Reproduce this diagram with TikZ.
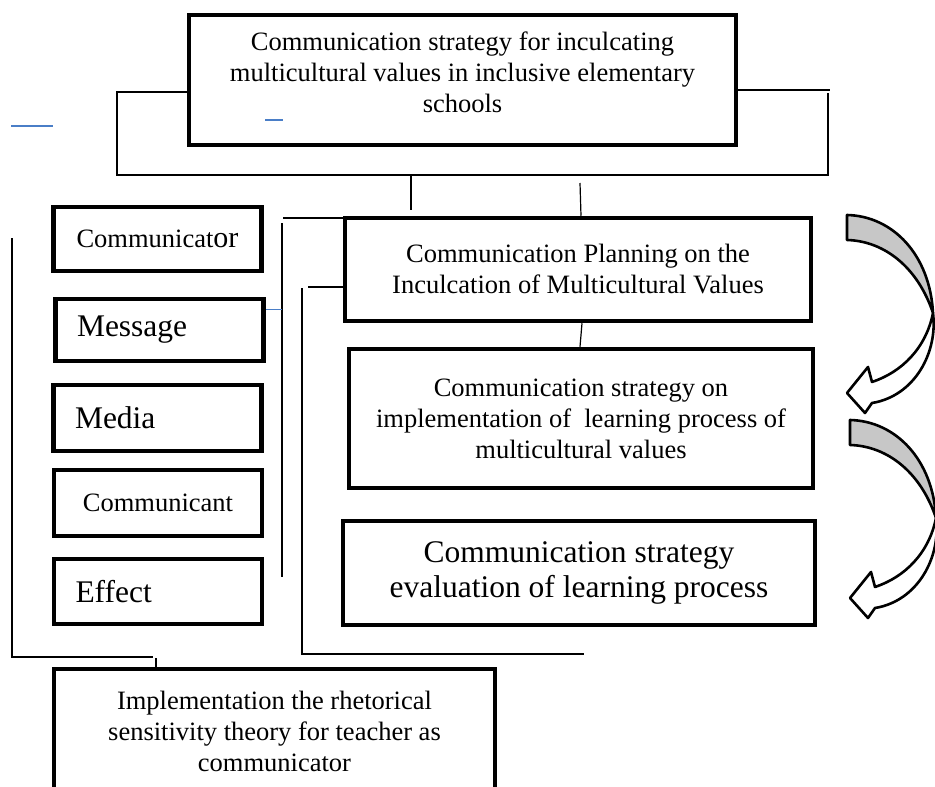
\documentclass[tikz,border=0pt]{standalone}
\usepackage{fontspec}
\setmainfont{Liberation Serif}
\definecolor{linkblue}{RGB}{74,126,199}
\newcommand{\normtxt}{\fontsize{26.5}{31}\selectfont}
\newcommand{\bigtxt}{\fontsize{31.5}{35}\selectfont}

\begin{document}
\begin{tikzpicture}[x=1pt, y=-1pt,
    box/.style={draw, line width=4.5pt, inner sep=0pt, align=center, font=\normtxt},
    item/.style={box, minimum width=208pt, minimum height=65pt},
    leftitem/.style={item, text width=165pt, align=left},
    link/.style={line width=1.2pt},
    curl/.style={line width=2.6pt, line join=round}]
    \useasboundingbox (0,0) rectangle (935,787);
    \clip (0,0) rectangle (935,787);

    % main boxes
    \node[box, minimum width=547pt, minimum height=130pt] (goal) at (462.5,80) {};
    \node[align=center, font=\normtxt] (goaltxt) at (462.5,72)
      {Communication strategy for inculcating\\ multicultural values in inclusive elementary\\ schools};
    \node[box, minimum width=466pt, minimum height=103pt] (plan) at (578,269.5)
      {Communication Planning on the\\ Inculcation of Multicultural Values};
    \node[box, minimum width=464pt, minimum height=139pt] (impl) at (581,418.5)
      {Communication strategy on\\ implementation of\ \ learning process of\\ multicultural values};
    \node[box, font=\bigtxt, minimum width=472pt, minimum height=104pt] (eval) at (579,573)
      {Communication strategy\\ evaluation of learning process};
    \node[box, minimum width=441pt, minimum height=124pt] (rst) at (274.5,731)
      {Implementation the rhetorical\\ sensitivity theory for teacher as\\ communicator};

    % communication elements
    \node[item, minimum height=64pt] (cmr) at (157.5,239) {Communicat{\fontsize{30}{31}\selectfont or}};
    \node[leftitem, font=\bigtxt, minimum height=62pt] (msg) at (159.5,330) {Message};
    \node[leftitem, font=\bigtxt, minimum height=66pt] (med) at (157.5,418) {Media};
    \node[item, minimum height=66pt] (cmt) at (158,503) {Communicant};
    \node[leftitem, font=\bigtxt] (eff) at (158,591.5) {Effect};

    % frame round the top box
    \draw[link] (goal.west |- 0,92) -- (117,92) -- (117,175) -- (828,175) -- (828,93);
    \draw[link] (goal.east |- 0,90) -- (830,90);
    \draw[link] (411,175) -- (411,210);
    \draw[link] (580,183) -- (plan.north -| 581,0);
    \draw[link] (plan.south -| 582,0) -- (impl.north -| 580,0);

    % side brackets
    \draw[link] (plan.west |- 0,218) -- (283,218);
    \draw[link] (282,223) -- (282,577);
    \draw[link] (plan.west |- 0,287) -- (308,287);
    \draw[link] (302,288) -- (302,654) -- (584,654);
    \draw[link] (12,238) -- (12,657) -- (153,657);
    \draw[link] (156,658) -- (rst.north -| 156,0);

    % stray blue strokes
    \draw[linkblue, line width=1.2pt] (11,126) -- (53,126);
    \draw[linkblue, line width=1.2pt] (265,120) -- (283,120);
    \draw[linkblue, line width=1pt] (msg.east |- 0,309) -- (282,309);

    % curved arrows on the right
    \foreach \s in {0,1} {
      \begin{scope}[shift={(3*\s,205*\s)}]
        \filldraw[curl, fill=black!22] (847,215) .. controls (893,216) and (930,255) .. (933,313)
          .. controls (918,268) and (885,241) .. (847,240) -- cycle;
        \filldraw[curl, fill=white] (933,313) .. controls (938,352) and (915,396) .. (872,403)
          -- (865,413) -- (847,393) -- (868,367) -- (872,382)
          .. controls (902,372) and (926,348) .. (933,313) -- cycle;
      \end{scope}
    }
\end{tikzpicture}
\end{document}
